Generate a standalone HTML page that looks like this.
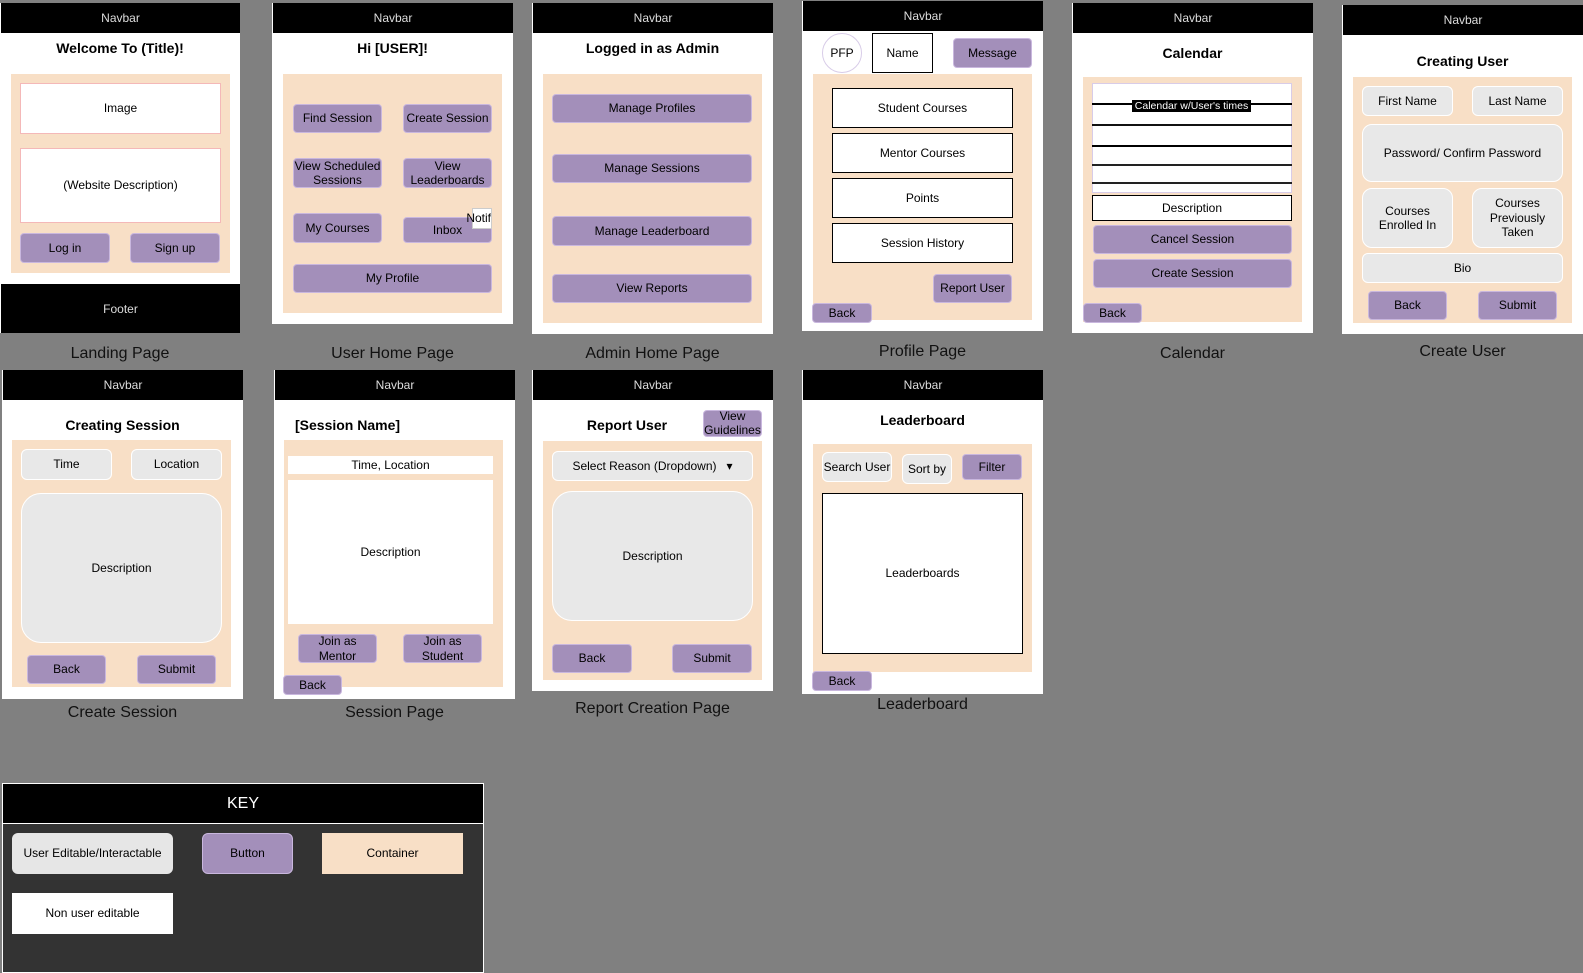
<!DOCTYPE html>
<html><head><meta charset="utf-8"><style>
*{box-sizing:border-box;margin:0;padding:0}
body{width:1583px;height:964px;background:#808080;position:relative;overflow:hidden;font-family:"Liberation Sans",Arial,sans-serif}
div{position:absolute}
.f{background:#fff}
.nb{background:#000;color:#ddd;font-size:12px;display:flex;align-items:center;justify-content:center}
.c{background:#f8dfc6}
.x{display:flex;align-items:center;justify-content:center;text-align:center;font-size:12px;color:#000;line-height:1.2}
.b{background:#a38fba;border:1px solid #c9b7de;border-radius:4px}
.e{background:#e8e8e8;border:1px solid #fff;border-radius:6px}
.w{background:#fff}
.k{border:1px solid #000}
.t{font-size:14px;font-weight:bold;color:#000}
.l{font-size:16px;color:#111;display:flex;justify-content:center}
</style></head><body>

<!-- Landing -->
<div class="f" style="left:0;top:3px;width:240px;height:330px"></div>
<div class="nb" style="left:1px;top:3px;width:239px;height:30px">Navbar</div>
<div class="x t" style="left:0;top:38px;width:240px;height:20px">Welcome To (Title)!</div>
<div class="c" style="left:11px;top:74px;width:219px;height:199px"></div>
<div class="x w" style="left:20px;top:83px;width:201px;height:51px;border:1px solid #f4b8b8">Image</div>
<div class="x w" style="left:20px;top:148px;width:201px;height:75px;border:1px solid #f4b8b8">(Website Description)</div>
<div class="x b" style="left:20px;top:233px;width:90px;height:30px">Log in</div>
<div class="x b" style="left:130px;top:233px;width:90px;height:30px">Sign up</div>
<div class="nb" style="left:1px;top:284px;width:239px;height:49px">Footer</div>
<div class="l" style="left:0;top:345px;width:240px">Landing Page</div>

<!-- User Home -->
<div class="f" style="left:272px;top:3px;width:241px;height:321px"></div>
<div class="nb" style="left:273px;top:3px;width:240px;height:30px">Navbar</div>
<div class="x t" style="left:272px;top:38px;width:241px;height:20px">Hi [USER]!</div>
<div class="c" style="left:283px;top:74px;width:219px;height:239px"></div>
<div class="x b" style="left:293px;top:104px;width:89px;height:29px">Find Session</div>
<div class="x b" style="left:403px;top:104px;width:89px;height:29px">Create Session</div>
<div class="x b" style="left:293px;top:158px;width:89px;height:30px">View Scheduled Sessions</div>
<div class="x b" style="left:403px;top:158px;width:89px;height:30px">View Leaderboards</div>
<div class="x b" style="left:293px;top:213px;width:89px;height:30px">My Courses</div>
<div class="x b" style="left:403px;top:217px;width:89px;height:26px">Inbox</div>
<div class="x w" style="left:472px;top:208px;width:20px;height:21px;border:1px solid #ccc;justify-content:flex-end;overflow:visible;white-space:nowrap">Notif</div>
<div class="x b" style="left:293px;top:264px;width:199px;height:29px">My Profile</div>
<div class="l" style="left:272px;top:345px;width:241px">User Home Page</div>

<!-- Admin -->
<div class="f" style="left:532px;top:3px;width:241px;height:331px"></div>
<div class="nb" style="left:533px;top:3px;width:240px;height:30px">Navbar</div>
<div class="x t" style="left:532px;top:38px;width:241px;height:20px">Logged in as Admin</div>
<div class="c" style="left:543px;top:74px;width:219px;height:249px"></div>
<div class="x b" style="left:552px;top:94px;width:200px;height:29px">Manage Profiles</div>
<div class="x b" style="left:552px;top:154px;width:200px;height:29px">Manage Sessions</div>
<div class="x b" style="left:552px;top:216px;width:200px;height:30px">Manage Leaderboard</div>
<div class="x b" style="left:552px;top:274px;width:200px;height:29px">View Reports</div>
<div class="l" style="left:532px;top:345px;width:241px">Admin Home Page</div>

<!-- Profile -->
<div class="f" style="left:802px;top:1px;width:241px;height:330px"></div>
<div class="nb" style="left:803px;top:1px;width:240px;height:30px">Navbar</div>
<div class="x w" style="left:822px;top:33px;width:40px;height:40px;border:1px solid #d8cce8;border-radius:50%">PFP</div>
<div class="x w k" style="left:872px;top:33px;width:61px;height:40px">Name</div>
<div class="x b" style="left:953px;top:38px;width:79px;height:30px">Message</div>
<div class="c" style="left:813px;top:74px;width:219px;height:246px"></div>
<div class="x w k" style="left:832px;top:88px;width:181px;height:40px">Student Courses</div>
<div class="x w k" style="left:832px;top:133px;width:181px;height:40px">Mentor Courses</div>
<div class="x w k" style="left:832px;top:178px;width:181px;height:40px">Points</div>
<div class="x w k" style="left:832px;top:223px;width:181px;height:40px">Session History</div>
<div class="x b" style="left:933px;top:274px;width:79px;height:29px">Report User</div>
<div class="x b" style="left:812px;top:303px;width:60px;height:20px">Back</div>
<div class="l" style="left:802px;top:343px;width:241px">Profile Page</div>

<!-- Calendar -->
<div class="f" style="left:1072px;top:3px;width:241px;height:330px"></div>
<div class="nb" style="left:1073px;top:3px;width:240px;height:30px">Navbar</div>
<div class="x t" style="left:1072px;top:43px;width:241px;height:20px">Calendar</div>
<div class="c" style="left:1083px;top:77px;width:219px;height:245px"></div>
<div class="w" style="left:1092px;top:83px;width:200px;height:110px;border:1px solid #d8cce8"></div>
<div style="left:1092px;top:103px;width:200px;height:2px;background:#000"></div>
<div style="left:1092px;top:124px;width:200px;height:2px;background:#111"></div>
<div style="left:1092px;top:145px;width:200px;height:2px;background:#000"></div>
<div style="left:1092px;top:164px;width:200px;height:2px;background:#222"></div>
<div style="left:1092px;top:182px;width:200px;height:2px;background:#222"></div>
<div style="left:1132px;top:100px;width:119px;height:12px;background:#000;color:#fff;font-size:10.5px;line-height:12px;text-align:center;white-space:nowrap">Calendar w/User's times</div>
<div class="x w k" style="left:1092px;top:195px;width:200px;height:26px">Description</div>
<div class="x b" style="left:1093px;top:225px;width:199px;height:29px">Cancel Session</div>
<div class="x b" style="left:1093px;top:259px;width:199px;height:29px">Create Session</div>
<div class="x b" style="left:1083px;top:303px;width:59px;height:20px">Back</div>
<div class="l" style="left:1072px;top:345px;width:241px">Calendar</div>

<!-- Create User -->
<div class="f" style="left:1342px;top:5px;width:241px;height:329px"></div>
<div class="nb" style="left:1343px;top:5px;width:240px;height:30px">Navbar</div>
<div class="x t" style="left:1342px;top:51px;width:241px;height:20px">Creating User</div>
<div class="c" style="left:1353px;top:77px;width:219px;height:246px"></div>
<div class="x e" style="left:1362px;top:86px;width:91px;height:30px">First Name</div>
<div class="x e" style="left:1472px;top:86px;width:91px;height:30px">Last Name</div>
<div class="x e" style="left:1362px;top:124px;width:201px;height:58px;border-radius:10px">Password/ Confirm Password</div>
<div class="x e" style="left:1362px;top:188px;width:91px;height:60px;border-radius:10px">Courses<br>Enrolled In</div>
<div class="x e" style="left:1472px;top:188px;width:91px;height:60px;border-radius:10px">Courses<br>Previously<br>Taken</div>
<div class="x e" style="left:1362px;top:253px;width:201px;height:30px">Bio</div>
<div class="x b" style="left:1368px;top:291px;width:79px;height:29px">Back</div>
<div class="x b" style="left:1478px;top:291px;width:79px;height:29px">Submit</div>
<div class="l" style="left:1342px;top:343px;width:241px">Create User</div>

<!-- Create Session -->
<div class="f" style="left:2px;top:370px;width:241px;height:329px"></div>
<div class="nb" style="left:3px;top:370px;width:240px;height:30px">Navbar</div>
<div class="x t" style="left:2px;top:415px;width:241px;height:20px">Creating Session</div>
<div class="c" style="left:12px;top:440px;width:219px;height:247px"></div>
<div class="x e" style="left:21px;top:449px;width:91px;height:31px">Time</div>
<div class="x e" style="left:131px;top:449px;width:91px;height:31px">Location</div>
<div class="x e" style="left:21px;top:493px;width:201px;height:150px;border-radius:20px">Description</div>
<div class="x b" style="left:27px;top:655px;width:79px;height:29px">Back</div>
<div class="x b" style="left:137px;top:655px;width:79px;height:29px">Submit</div>
<div class="l" style="left:2px;top:704px;width:241px">Create Session</div>

<!-- Session Page -->
<div class="f" style="left:274px;top:370px;width:241px;height:329px"></div>
<div class="nb" style="left:275px;top:370px;width:240px;height:30px">Navbar</div>
<div class="t" style="left:295px;top:415px;height:20px;line-height:20px">[Session Name]</div>
<div class="c" style="left:284px;top:440px;width:219px;height:247px"></div>
<div class="x w" style="left:288px;top:456px;width:205px;height:18px">Time, Location</div>
<div class="x w" style="left:288px;top:480px;width:205px;height:144px">Description</div>
<div class="x b" style="left:298px;top:634px;width:79px;height:29px">Join as<br>Mentor</div>
<div class="x b" style="left:403px;top:634px;width:79px;height:29px">Join as<br>Student</div>
<div class="x b" style="left:283px;top:675px;width:59px;height:20px">Back</div>
<div class="l" style="left:274px;top:704px;width:241px">Session Page</div>

<!-- Report -->
<div class="f" style="left:532px;top:370px;width:241px;height:321px"></div>
<div class="nb" style="left:533px;top:370px;width:240px;height:30px">Navbar</div>
<div class="x t" style="left:577px;top:415px;width:100px;height:20px">Report User</div>
<div class="x b" style="left:703px;top:410px;width:59px;height:27px;line-height:1.1">View<br>Guidelines</div>
<div class="c" style="left:543px;top:441px;width:219px;height:239px"></div>
<div class="x e" style="left:552px;top:451px;width:201px;height:30px">Select Reason (Dropdown)&nbsp;&nbsp;&nbsp;▾</div>
<div class="x e" style="left:552px;top:491px;width:201px;height:130px;border-radius:20px">Description</div>
<div class="x b" style="left:552px;top:644px;width:80px;height:29px">Back</div>
<div class="x b" style="left:672px;top:644px;width:80px;height:29px">Submit</div>
<div class="l" style="left:532px;top:700px;width:241px">Report Creation Page</div>

<!-- Leaderboard -->
<div class="f" style="left:802px;top:370px;width:241px;height:324px"></div>
<div class="nb" style="left:803px;top:370px;width:240px;height:30px">Navbar</div>
<div class="x t" style="left:802px;top:410px;width:241px;height:20px">Leaderboard</div>
<div class="c" style="left:813px;top:444px;width:219px;height:228px"></div>
<div class="x e" style="left:822px;top:452px;width:70px;height:30px">Search User</div>
<div class="x e" style="left:902px;top:454px;width:50px;height:30px">Sort by</div>
<div class="x b" style="left:962px;top:454px;width:60px;height:26px">Filter</div>
<div class="x w k" style="left:822px;top:493px;width:201px;height:161px">Leaderboards</div>
<div class="x b" style="left:812px;top:671px;width:60px;height:20px">Back</div>
<div class="l" style="left:802px;top:696px;width:241px">Leaderboard</div>

<!-- Key -->
<div style="left:2px;top:783px;width:482px;height:190px;background:#333;border:1px solid #fff"></div>
<div style="left:3px;top:784px;width:480px;height:40px;background:#000;border-bottom:1px solid #fff;color:#fff;font-size:16px;display:flex;align-items:center;justify-content:center">KEY</div>
<div class="x" style="left:12px;top:833px;width:161px;height:41px;background:#e6e6e6;border-radius:6px">User Editable/Interactable</div>
<div class="x b" style="left:202px;top:833px;width:91px;height:41px;border-radius:6px">Button</div>
<div class="x c" style="left:322px;top:833px;width:141px;height:41px">Container</div>
<div class="x w" style="left:12px;top:893px;width:161px;height:41px">Non user editable</div>
</body></html>
